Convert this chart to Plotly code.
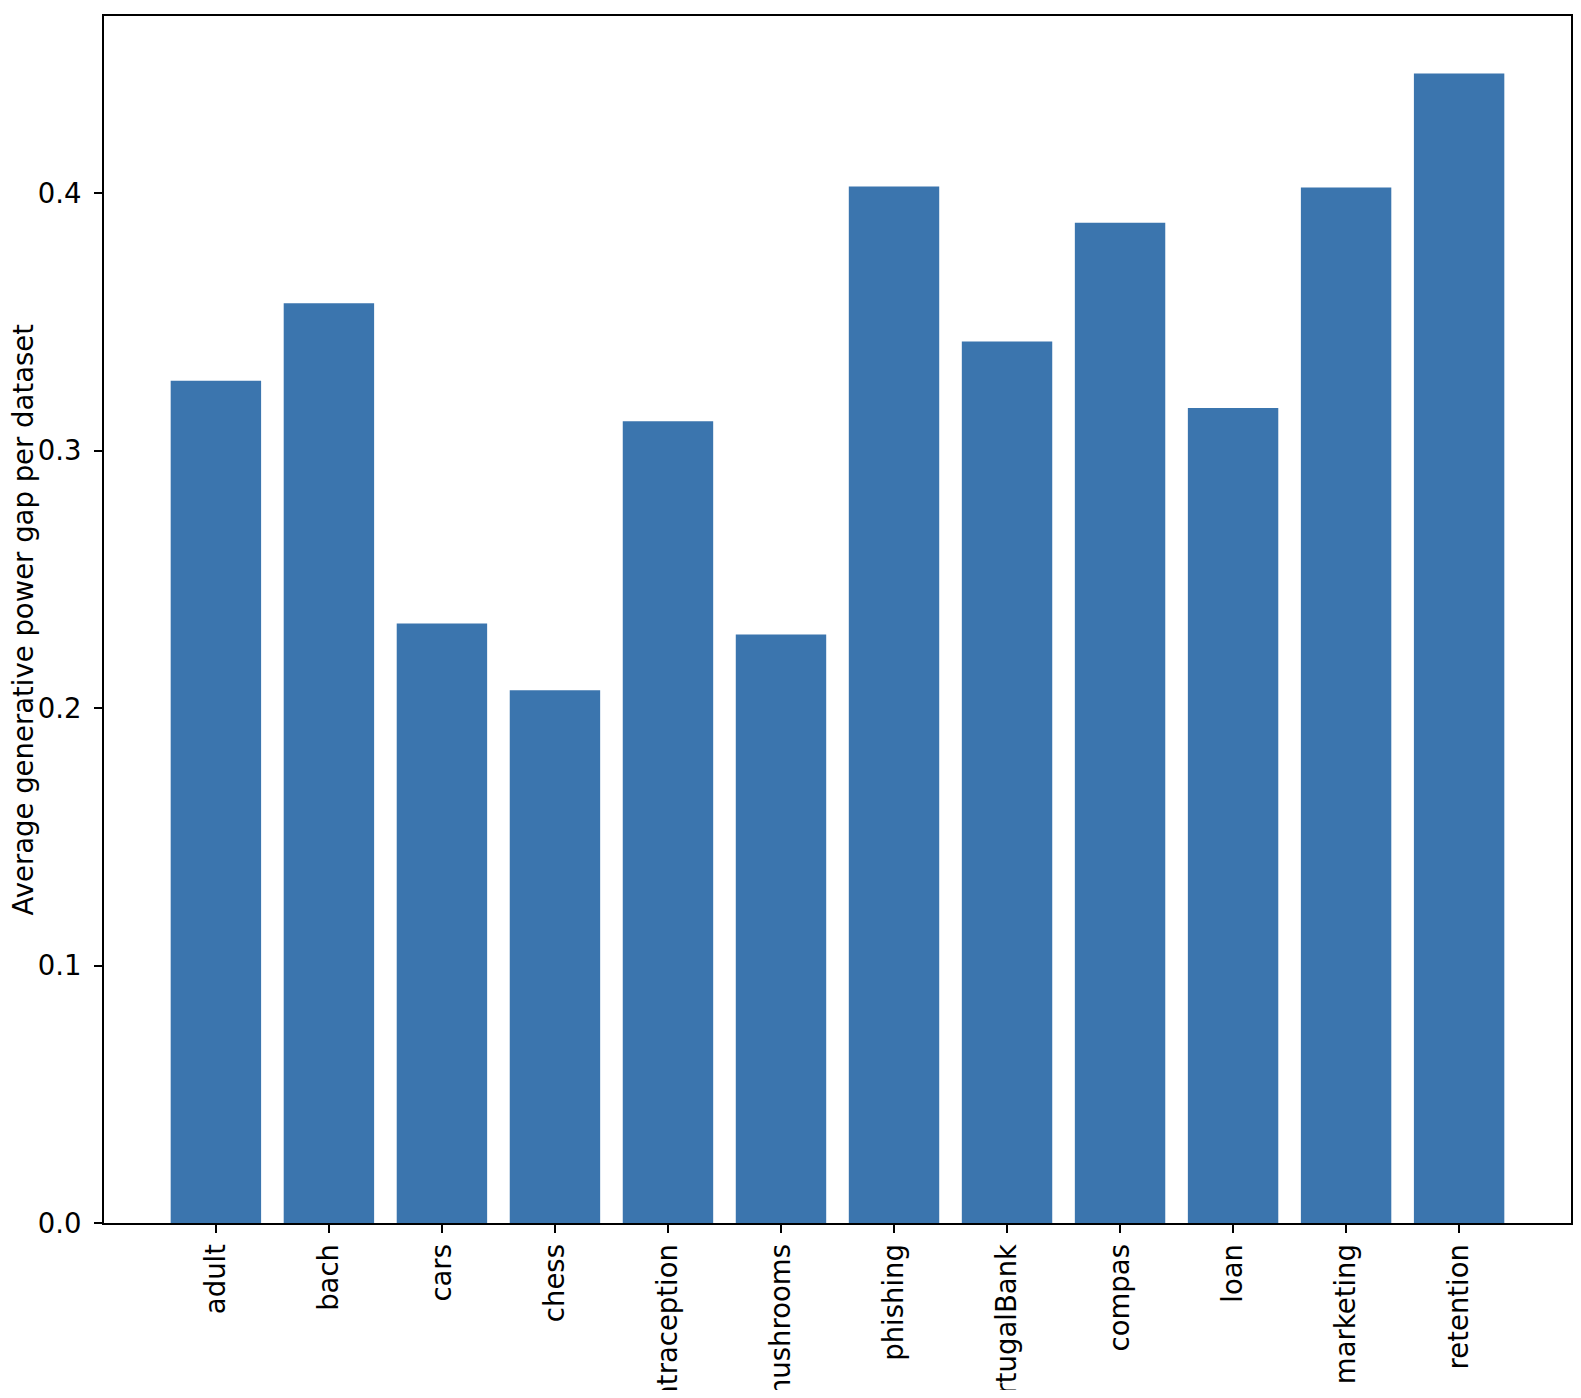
import plotly.graph_objects as go

datasets = ["adult", "bach", "cars", "chess", "contraception", "mushrooms",
            "phishing", "portugalBank", "compas", "loan", "marketing", "retention"]
avg_gap = [0.3272, 0.3573, 0.2329, 0.2070, 0.3115, 0.2286,
           0.4027, 0.3425, 0.3886, 0.3166, 0.4023, 0.4466]

y_ticks = [0.0, 0.1, 0.2, 0.3, 0.4]

fig = go.Figure()
fig.add_trace(go.Bar(x=datasets, y=avg_gap, marker=dict(color="#3b75ae", line=dict(width=0)), width=0.8))

font = dict(family="DejaVu Sans", size=27.5, color="black")
axis_style = dict(showline=True, mirror=True, linecolor="black", linewidth=2,
                  ticks="outside", ticklen=8, tickwidth=2, tickcolor="black",
                  showgrid=False, zeroline=False, tickfont=font)

fig.add_annotation(text="Average generative power gap per dataset", textangle=-90,
                   xref="paper", yref="paper", x=0, y=0.5, xshift=-82,
                   xanchor="center", yanchor="middle", showarrow=False, font=font)

# the page body adds an 8px margin all round, so keep the figure inside it
fig.update_layout(
    width=1565, height=1382,
    margin=dict(l=96, r=2, t=8, b=167, autoexpand=False),
    plot_bgcolor="white", paper_bgcolor="white",
    font=font,
    showlegend=False,
    xaxis=dict(range=[-0.99, 11.99], tickangle=-90, automargin=False, **axis_style),
    yaxis=dict(range=[0, max(avg_gap) * 1.05], tickvals=y_ticks, tickformat=".1f",
               automargin=False, ticklabelstandoff=7, **axis_style),
)

fig.write_html("out.html")
